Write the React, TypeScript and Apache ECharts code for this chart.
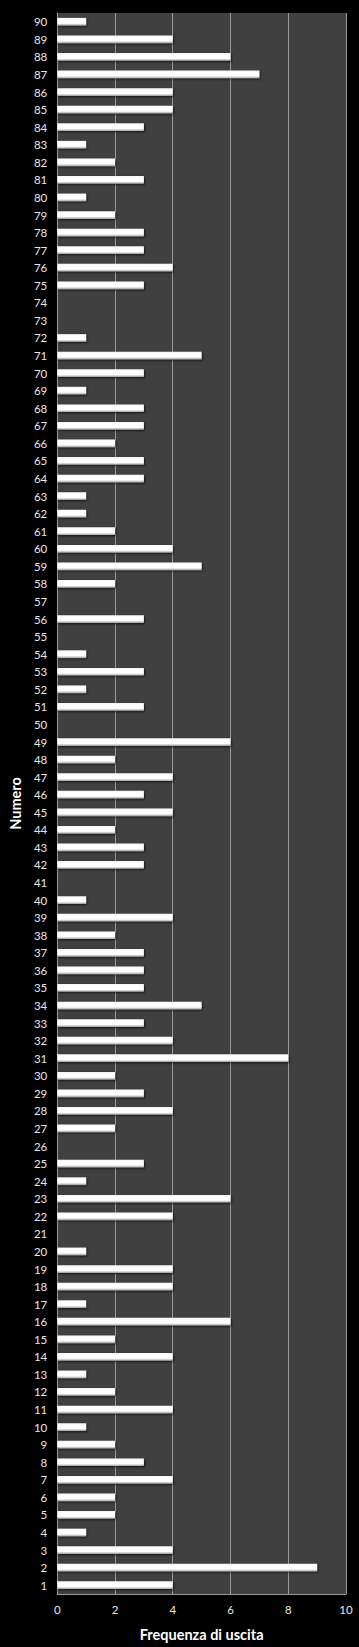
import React, { useEffect, useRef } from "react";
import * as echarts from "echarts";

const numbers: string[] = Array.from({ length: 90 }, (_, i) => String(i + 1));
const frequencies: number[] = [
  4, 9, 4, 1, 2, 2, 4, 3, 2, 1,
  4, 2, 1, 4, 2, 6, 1, 4, 4, 1,
  0, 4, 6, 1, 3, 0, 2, 4, 3, 2,
  8, 4, 3, 5, 3, 3, 3, 2, 4, 1,
  0, 3, 3, 2, 4, 3, 4, 2, 6, 0,
  3, 1, 3, 1, 0, 3, 0, 2, 5, 4,
  2, 1, 1, 3, 3, 2, 3, 3, 1, 3,
  5, 1, 0, 0, 3, 4, 3, 3, 2, 1,
  3, 2, 1, 3, 4, 4, 7, 6, 4, 1,
];
const xTicks = { min: 0, max: 10, interval: 2 };
const xTitle = "Frequenza di uscita";
const yTitle = "Numero";

export default function App() {
  const ref = useRef<HTMLDivElement>(null);
  useEffect(() => {
    document.body.style.margin = "0";
    document.body.style.background = "#000";
    if (!ref.current) return;
    const chart = echarts.init(ref.current, undefined, { renderer: "svg" });
    const font = "Lato, 'Open Sans', sans-serif";
    chart.setOption({
      animation: false,
      backgroundColor: "#000000",
      grid: {
        left: 53,
        right: 13,
        top: 13,
        bottom: 53,
        show: true,
        backgroundColor: "#404040",
        borderColor: "#404040",
        borderWidth: 0,
      },
      xAxis: {
        type: "value",
        min: xTicks.min,
        max: xTicks.max,
        interval: xTicks.interval,
        name: xTitle,
        nameLocation: "middle",
        nameGap: 33,
        nameTextStyle: { color: "#ffffff", fontSize: 14.5, fontWeight: "bold", fontFamily: font },
        axisLine: { show: true, lineStyle: { color: "#9a9a9a", width: 1 } },
        axisTick: { show: false },
        axisLabel: { color: "#e6e6e6", fontSize: 11.5, margin: 9, fontFamily: font },
        splitLine: { show: true, lineStyle: { color: "#9a9a9a", width: 1 } },
      },
      yAxis: {
        type: "category",
        data: numbers,
        name: yTitle,
        nameLocation: "middle",
        nameGap: 34,
        nameRotate: 90,
        nameTextStyle: { color: "#ffffff", fontSize: 14.5, fontWeight: "bold", fontFamily: font },
        axisLine: { show: true, lineStyle: { color: "#9a9a9a", width: 1 } },
        axisTick: { show: false },
        axisLabel: { color: "#e6e6e6", fontSize: 11.5, margin: 10, interval: 0, fontFamily: font },
        splitLine: { show: false },
      },
      series: [
        {
          type: "bar",
          data: frequencies,
          barWidth: "44%",
          itemStyle: {
            color: new echarts.graphic.LinearGradient(0, 0, 0, 1, [
              { offset: 0, color: "#f4f4f4" },
              { offset: 0.25, color: "#ffffff" },
              { offset: 0.7, color: "#ffffff" },
              { offset: 1, color: "#9a9a9a" },
            ]),
            shadowColor: "rgba(0,0,0,0.7)",
            shadowBlur: 2,
            shadowOffsetX: 1,
            shadowOffsetY: 1,
          },
        },
      ],
    });
    return () => chart.dispose();
  }, []);
  return <div ref={ref} style={{ width: 359, height: 1647 }} />;
}
